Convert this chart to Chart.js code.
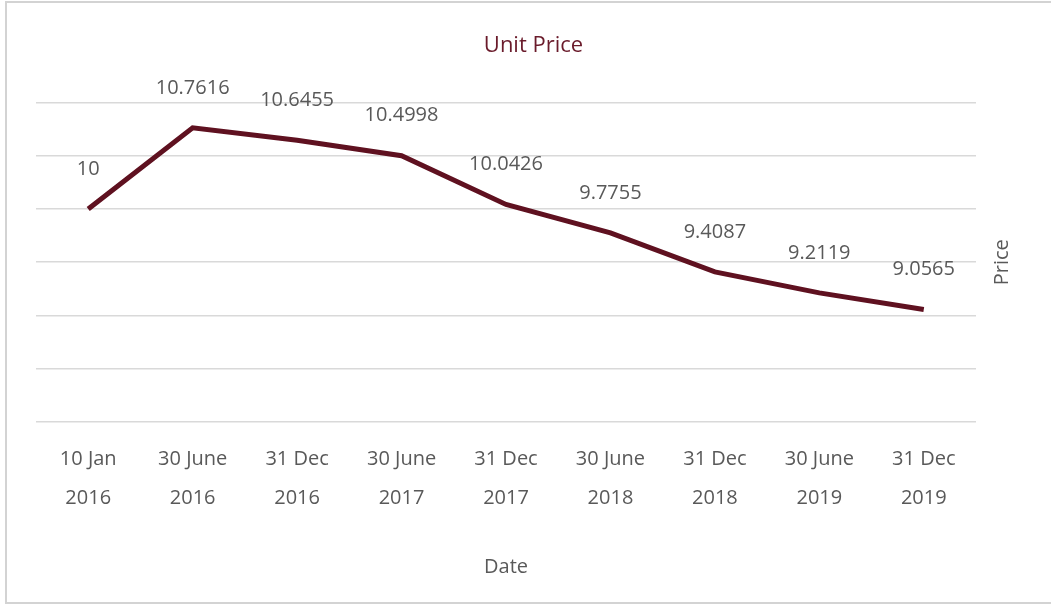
<!DOCTYPE html>
<html>
<head>
<meta charset="utf-8">
<script src="https://cdn.jsdelivr.net/npm/chart.js@4.4.1/dist/chart.umd.min.js"></script>
<style>
  html, body { margin: 0; padding: 0; background: #fff; }
  #frame {
    position: absolute; left: 5px; top: 1px; width: 1100px; height: 603px;
    border: 2px solid #d3d3d3; box-sizing: border-box;
  }
  #wrap { position: absolute; left: 0; top: 0; width: 1051px; height: 607px; }
</style>
</head>
<body>
<div id="frame"></div>
<div id="wrap"><canvas id="chart"></canvas></div>
<script>
const dateLabels = [
  ["10 Jan", "2016"],
  ["30 June", "2016"],
  ["31 Dec", "2016"],
  ["30 June", "2017"],
  ["31 Dec", "2017"],
  ["30 June", "2018"],
  ["31 Dec", "2018"],
  ["30 June", "2019"],
  ["31 Dec", "2019"],
];
const unitPrices = [10, 10.7616, 10.6455, 10.4998, 10.0426, 9.7755, 9.4087, 9.2119, 9.0565];
const priceLabels = ["10", "10.7616", "10.6455", "10.4998", "10.0426", "9.7755", "9.4087", "9.2119", "9.0565"];

const FONT = "'Open Sans', 'Noto Sans', sans-serif";
const TEXT = "#595959";
const MAROON = "#5f1120";

// value labels above each point
const valueLabels = {
  id: "valueLabels",
  afterDatasetsDraw(chart) {
    const { ctx } = chart;
    const meta = chart.getDatasetMeta(0);
    ctx.save();
    ctx.font = "20px " + FONT;
    ctx.fillStyle = TEXT;
    ctx.textAlign = "center";
    ctx.textBaseline = "middle";
    meta.data.forEach((pt, i) => {
      ctx.fillText(priceLabels[i], pt.x, pt.y - 40);
    });
    ctx.restore();
  },
};

// y axis title on the right, reading bottom to top
const rightTitle = {
  id: "rightTitle",
  afterDraw(chart) {
    const { ctx, chartArea } = chart;
    ctx.save();
    ctx.translate(chartArea.right + 26, (chartArea.top + chartArea.bottom) / 2);
    ctx.rotate(-Math.PI / 2);
    ctx.font = "20px " + FONT;
    ctx.fillStyle = TEXT;
    ctx.textAlign = "center";
    ctx.textBaseline = "middle";
    ctx.fillText("Price", 0, 0);
    ctx.restore();
  },
};

new Chart(document.getElementById("chart"), {
  type: "line",
  data: {
    labels: dateLabels,
    datasets: [
      {
        data: unitPrices,
        borderColor: MAROON,
        borderWidth: 5,
        pointRadius: 0,
        tension: 0,
        fill: false,
      },
    ],
  },
  options: {
    responsive: true,
    maintainAspectRatio: false,
    animation: false,
    layout: { padding: { left: 36, right: 20, top: 0, bottom: 0 } },
    plugins: {
      legend: { display: false },
      tooltip: { enabled: false },
      title: {
        display: true,
        text: "Unit Price",
        color: "#6a1b2b",
        font: { family: FONT, size: 22, weight: "normal", lineHeight: 1.2 },
        padding: { top: 33, bottom: 43 },
      },
    },
    scales: {
      x: {
        offset: true,
        grid: { display: false, drawTicks: false },
        border: { display: false },
        ticks: {
          color: TEXT,
          padding: 18,
          maxRotation: 0,
          autoSkip: false,
          font: { family: FONT, size: 20, lineHeight: 1.95 },
        },
        title: {
          display: true,
          text: "Date",
          color: TEXT,
          font: { family: FONT, size: 20, lineHeight: 1.2 },
          padding: { top: 19, bottom: 28 },
        },
      },
      y: {
        position: "right",
        min: 8,
        max: 11,
        ticks: { display: false, stepSize: 0.5 },
        grid: { color: "#d9d9d9", lineWidth: 1.5, drawTicks: false },
        border: { display: false },
        afterFit(scale) {
          scale.width = 55;
        },
      },
    },
  },
  plugins: [valueLabels, rightTitle],
});
</script>
</body>
</html>
